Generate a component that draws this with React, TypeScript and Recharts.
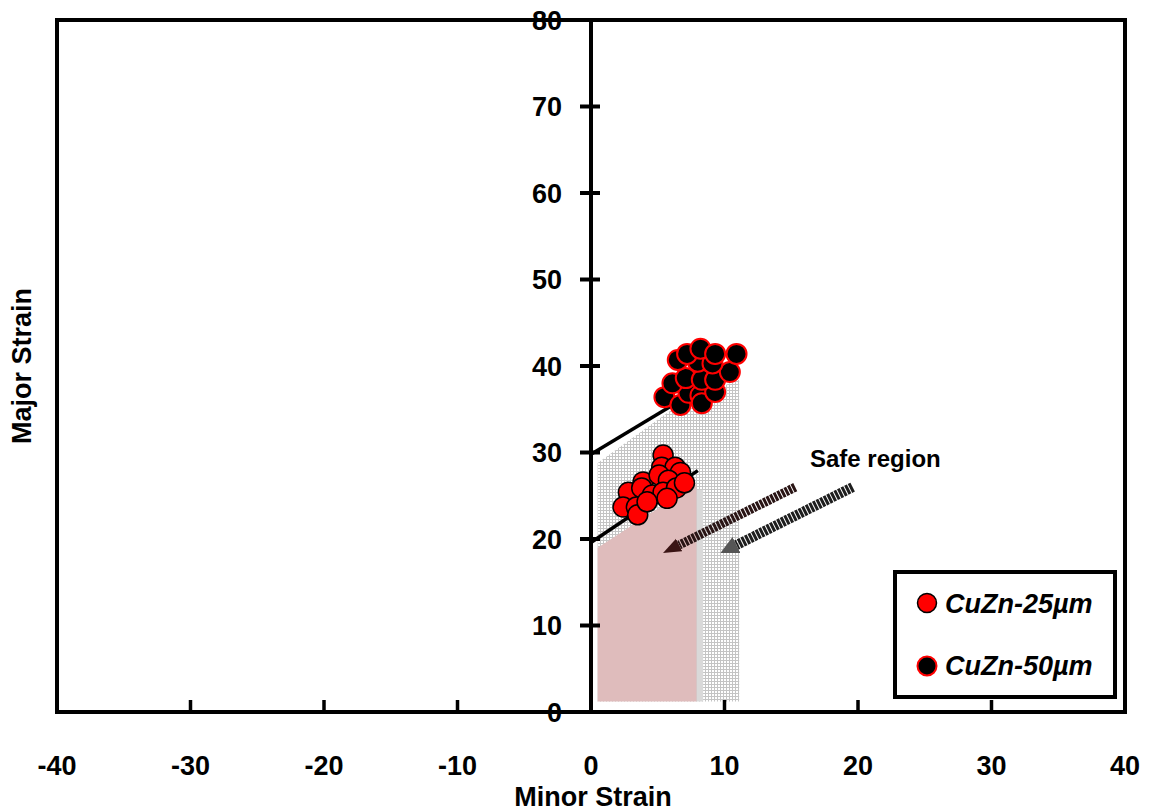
import React from 'react';
import {
  ComposedChart,
  XAxis,
  YAxis,
  Scatter,
  Line,
  Area,
  ReferenceArea,
  ReferenceLine,
  Legend,
} from 'recharts';

const xTicks = [-40, -30, -20, -10, 0, 10, 20, 30, 40];
const yTicks = [0, 10, 20, 30, 40, 50, 60, 70, 80];

const cuzn25 = [
  { x: 5.4, y: 29.7 }, { x: 5.3, y: 28.3 }, { x: 6.3, y: 28.3 }, { x: 6.7, y: 27.7 },
  { x: 3.9, y: 26.6 }, { x: 5.1, y: 27.4 }, { x: 5.8, y: 26.8 }, { x: 2.8, y: 25.4 },
  { x: 3.8, y: 25.9 }, { x: 4.6, y: 25.1 }, { x: 5.4, y: 25.4 }, { x: 6.4, y: 25.9 },
  { x: 7.0, y: 26.5 }, { x: 2.4, y: 23.7 }, { x: 3.4, y: 23.7 }, { x: 3.5, y: 22.8 },
  { x: 4.2, y: 24.3 }, { x: 5.7, y: 24.7 },
];

const cuzn50 = [
  { x: 5.5, y: 36.4 }, { x: 6.7, y: 35.5 }, { x: 7.3, y: 36.9 }, { x: 8.2, y: 36.6 },
  { x: 8.3, y: 35.7 }, { x: 9.3, y: 37.0 }, { x: 6.1, y: 38.0 }, { x: 7.1, y: 38.6 },
  { x: 8.3, y: 38.4 }, { x: 9.3, y: 38.4 }, { x: 10.4, y: 39.3 }, { x: 8.0, y: 40.5 },
  { x: 9.1, y: 40.3 }, { x: 6.5, y: 40.7 }, { x: 7.2, y: 41.4 }, { x: 8.2, y: 42.0 },
  { x: 9.3, y: 41.4 }, { x: 10.9, y: 41.4 },
];

const fld25 = [{ x: 0, y: 19.6 }, { x: 8, y: 27.9 }];
const fld50 = [{ x: 0, y: 29.8 }, { x: 7, y: 36.3 }];

const dottedZone = [{ x: 0.5, y: 28.8 }, { x: 7, y: 36 }, { x: 11.1, y: 38.4 }];
const greyStrip = [{ x: 7.9, y: 25.7 }, { x: 8.4, y: 25.7 }];
const pinkZone = [{ x: 0.5, y: 19 }, { x: 7.9, y: 26.4 }];
const zoneFloor = 1.2;

const arrowA = [{ x: 15.3, y: 26 }, { x: 6.6, y: 19.3 }];
const arrowB = [{ x: 19.6, y: 26 }, { x: 10.9, y: 19.3 }];

const W = 1151;
const H = 812;
const PLOT_LEFT = 57;
const PLOT_RIGHT = 1125;
const PLOT_BOTTOM = 712;
const X0 = PLOT_LEFT + (PLOT_RIGHT - PLOT_LEFT) / 2;
const FONT = "'Liberation Sans', Arial, sans-serif";

const XTick = (p: any) => {
  const v = p.payload.value;
  return (
    <g>
      {v !== -40 && v !== 40 && (
        <line x1={p.x} x2={p.x} y1={PLOT_BOTTOM} y2={PLOT_BOTTOM - 12} stroke="#000" strokeWidth={3.5} />
      )}
      <text x={p.x} y={775} textAnchor="middle" fontFamily={FONT} fontWeight="bold" fontSize={27} fill="#000">
        {v}
      </text>
    </g>
  );
};

const YTick = (p: any) => {
  const v = p.payload.value;
  return (
    <g>
      {v !== 0 && v !== 80 && (
        <line x1={X0 - 11} x2={X0 + 9} y1={p.y} y2={p.y} stroke="#000" strokeWidth={4} />
      )}
      <text x={562} y={p.y + 9.5} textAnchor="end" fontFamily={FONT} fontWeight="bold" fontSize={27} fill="#000">
        {v}
      </text>
    </g>
  );
};

const LegendBox = () => (
  <svg width={224} height={129}>
    <rect x={2} y={2} width={220} height={125} fill="#fff" stroke="#000" strokeWidth={4} />
    <circle cx={34} cy={33} r={9.5} fill="#ff0000" stroke="#000" strokeWidth={1.5} />
    <text x={52} y={43} fontFamily={FONT} fontWeight="bold" fontStyle="italic" fontSize={27} fill="#000">
      CuZn-25µm
    </text>
    <circle cx={34} cy={96} r={9.5} fill="#000" stroke="#ff0000" strokeWidth={2} />
    <text x={52} y={105} fontFamily={FONT} fontWeight="bold" fontStyle="italic" fontSize={27} fill="#000">
      CuZn-50µm
    </text>
  </svg>
);

export default function App() {
  return (
    <div style={{ position: 'absolute', left: 0, top: 0, background: '#fff' }}>
      <ComposedChart width={W} height={H} margin={{ top: 20, right: 26, left: 56, bottom: 99 }}>
        <defs>
          <pattern id="mesh" width={3} height={3} patternUnits="userSpaceOnUse">
            <rect x={0} y={0} width={3} height={3} fill="#fff" />
            <rect x={0} y={0} width={3} height={1} fill="#c4c4c4" />
            <rect x={0} y={0} width={1} height={3} fill="#c4c4c4" />
          </pattern>
          <marker id="headA" markerUnits="userSpaceOnUse" markerWidth={20} markerHeight={16} refX={0} refY={8} orient="auto">
            <path d="M0,1 L18,8 L0,15 z" fill="#3a1414" />
          </marker>
          <marker id="headB" markerUnits="userSpaceOnUse" markerWidth={20} markerHeight={18} refX={0} refY={9} orient="auto">
            <path d="M0,0 L18,9 L0,18 z" fill="#555" />
          </marker>
        </defs>
        <XAxis
          type="number"
          dataKey="x"
          domain={[-40, 40]}
          ticks={xTicks}
          height={1}
          axisLine={false}
          tickLine={false}
          tick={XTick}
          interval={0}
          label={{
            content: () => (
              <text x={X0 + 2} y={806} textAnchor="middle" fontFamily={FONT} fontWeight="bold" fontSize={27} fill="#000">
                Minor Strain
              </text>
            ),
          }}
        />
        <YAxis
          type="number"
          dataKey="y"
          domain={[0, 80]}
          ticks={yTicks}
          width={1}
          axisLine={false}
          tickLine={false}
          tick={YTick}
          interval={0}
          label={{
            content: () => (
              <text
                x={31}
                y={366}
                transform="rotate(-90, 31, 366)"
                textAnchor="middle"
                fontFamily={FONT}
                fontWeight="bold"
                fontSize={27}
                fill="#000"
              >
                Major Strain
              </text>
            ),
          }}
        />
        <Area data={dottedZone} dataKey="y" type="linear" baseValue={zoneFloor} fill="url(#mesh)" fillOpacity={1} stroke="none" legendType="none" isAnimationActive={false} />
        <Area data={greyStrip} dataKey="y" type="linear" baseValue={zoneFloor} fill="#d9d9d9" fillOpacity={1} stroke="none" legendType="none" isAnimationActive={false} />
        <Area data={pinkZone} dataKey="y" type="linear" baseValue={zoneFloor} fill="#dfbcbc" fillOpacity={1} stroke="none" legendType="none" isAnimationActive={false} />
        <ReferenceLine
          segment={arrowA}
          stroke="#2a1515"
          strokeWidth={9}
          strokeDasharray="3 1"
          markerEnd="url(#headA)"
        />
        <ReferenceLine
          segment={arrowB}
          stroke="#1e1e1e"
          strokeWidth={10}
          strokeDasharray="3 1"
          markerEnd="url(#headB)"
        />
        <Line data={fld50} dataKey="y" type="linear" stroke="#000" strokeWidth={3.5} dot={false} legendType="none" isAnimationActive={false} />
        <Line data={fld25} dataKey="y" type="linear" stroke="#000" strokeWidth={3.5} dot={false} legendType="none" isAnimationActive={false} />
        <Scatter
          name="CuZn-50µm"
          data={cuzn50}
          isAnimationActive={false}
          shape={(p: any) => <circle cx={p.cx} cy={p.cy} r={10} fill="#000" stroke="#ff0000" strokeWidth={2} />}
        />
        <Scatter
          name="CuZn-25µm"
          data={cuzn25}
          isAnimationActive={false}
          shape={(p: any) => <circle cx={p.cx} cy={p.cy} r={10} fill="#ff0000" stroke="#000" strokeWidth={1.5} />}
        />
        <ReferenceLine x={0} stroke="#000" strokeWidth={4} />
        <ReferenceArea x1={-40} x2={40} y1={0} y2={80} fill="none" fillOpacity={0} stroke="#000" strokeWidth={4} />
        <text x={810} y={467} fontFamily={FONT} fontWeight="bold" fontSize={24} fill="#000">
          Safe region
        </text>
        <Legend
          layout="horizontal"
          verticalAlign="middle"
          align="center"
          wrapperStyle={{ left: 893, top: 570, width: 224, height: 129 }}
          content={() => <LegendBox />}
        />
      </ComposedChart>
    </div>
  );
}
